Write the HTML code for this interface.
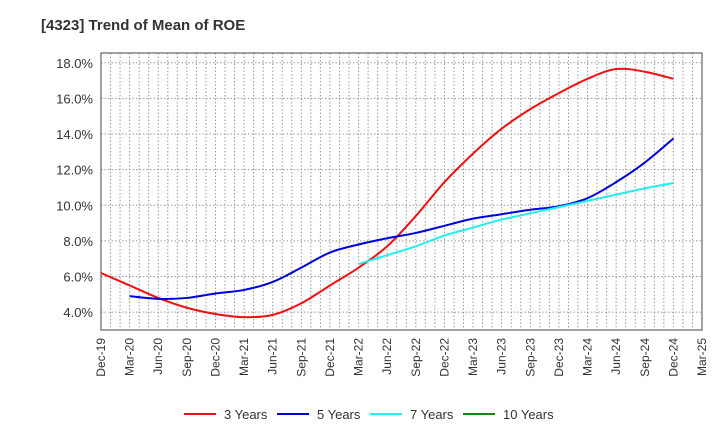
<!DOCTYPE html>
<html><head><meta charset="utf-8"><style>
body{margin:0;background:#fff;font-family:"Liberation Sans",sans-serif}
</style></head><body>
<svg id="c" width="720" height="440" xmlns="http://www.w3.org/2000/svg">
<text x="41" y="30" font-size="15" font-weight="bold" fill="#333">[4323]  Trend of Mean of ROE</text>
<g id="grid"></g><g id="axes"></g><g id="series"></g><g id="legend"></g>
</svg>
<script>
const categories=["Dec-19","Mar-20","Jun-20","Sep-20","Dec-20","Mar-21","Jun-21","Sep-21","Dec-21","Mar-22","Jun-22","Sep-22","Dec-22","Mar-23","Jun-23","Sep-23","Dec-23","Mar-24","Jun-24","Sep-24","Dec-24","Mar-25"];
const yTicks=[4,6,8,10,12,14,16,18];
const s3=[6.2,5.5,4.8,4.25,3.9,3.72,3.85,4.5,5.5,6.5,7.7,9.4,11.3,12.9,14.3,15.4,16.3,17.1,17.65,17.5,17.1];
const s5=[null,4.9,4.75,4.8,5.05,5.25,5.7,6.5,7.35,7.8,8.15,8.45,8.85,9.25,9.5,9.75,9.95,10.4,11.3,12.4,13.75];
const s7=[null,null,null,null,null,null,null,null,null,6.7,7.2,7.7,8.3,8.75,9.2,9.55,9.9,10.25,10.6,10.95,11.25];
const s10=[];
const NS="http://www.w3.org/2000/svg";
const L=101,R=702,T=53,B=330,yMin=3,yMax=18.55;
const x=i=>L+(R-L)*i/(categories.length-1);
const y=v=>B-(B-T)*(v-yMin)/(yMax-yMin);
function mk(tag,attrs,parent){const e=document.createElementNS(NS,tag);for(const k in attrs)e.setAttribute(k,attrs[k]);parent.appendChild(e);return e;}
const grid=document.getElementById('grid'),axes=document.getElementById('axes'),ser=document.getElementById('series'),leg=document.getElementById('legend');
for(let m=1;m<(categories.length-1)*3;m++){const xx=L+(R-L)*m/((categories.length-1)*3);
const g=mk('line',{x1:xx,x2:xx,y1:T,y2:B,stroke:'#999','stroke-dasharray':'1.5,2','stroke-width':1},grid);
}
yTicks.forEach(v=>{const g=mk('line',{x1:L,x2:R,y1:y(v),y2:y(v),stroke:'#999','stroke-dasharray':'1.5,2'},grid);

const t=mk('text',{x:L-8,y:y(v)+5,'text-anchor':'end','font-size':13,fill:'#333'},axes);t.textContent=v.toFixed(1)+'%';
});
const fr=mk('rect',{x:L,y:T,width:R-L,height:B-T,fill:'none',stroke:'#444','stroke-width':1},axes);

categories.forEach((c,i)=>{const t=mk('text',{transform:`translate(${x(i)+4},${B+8}) rotate(-90)`,'text-anchor':'end','font-size':12,fill:'#333'},axes);t.textContent=c;
});
function path(vals){const p=[];vals.forEach((v,i)=>{if(v!=null)p.push([x(i),y(v)]);});if(p.length<2)return '';
let d=`M${p[0][0]},${p[0][1]}`;for(let i=0;i<p.length-1;i++){const p0=p[i-1]||p[i],p1=p[i],p2=p[i+1],p3=p[i+2]||p2;
d+=` C${p1[0]+(p2[0]-p0[0])/6},${p1[1]+(p2[1]-p0[1])/6} ${p2[0]-(p3[0]-p1[0])/6},${p2[1]-(p3[1]-p1[1])/6} ${p2[0]},${p2[1]}`;}return d;}
const series=[[s3,'#ee1111','3 Years','series-3-years'],[s5,'#0000dd','5 Years','series-5-years'],[s7,'#22eeee','7 Years','series-7-years'],[s10,'#118811','10 Years','series-10-years']];
series.forEach(([d,col,name,dn],k)=>{const pd=path(d);if(pd){const p=mk('path',{d:pd,fill:'none',stroke:col,'stroke-width':2},ser);
}
const lx=[184,277,370,463][k];
const ln=mk('line',{x1:lx,x2:lx+32,y1:414,y2:414,stroke:col,'stroke-width':2},leg);

const t=mk('text',{x:lx+40,y:419,'font-size':13,fill:'#333'},leg);t.textContent=name;
});
</script>
</body></html>
